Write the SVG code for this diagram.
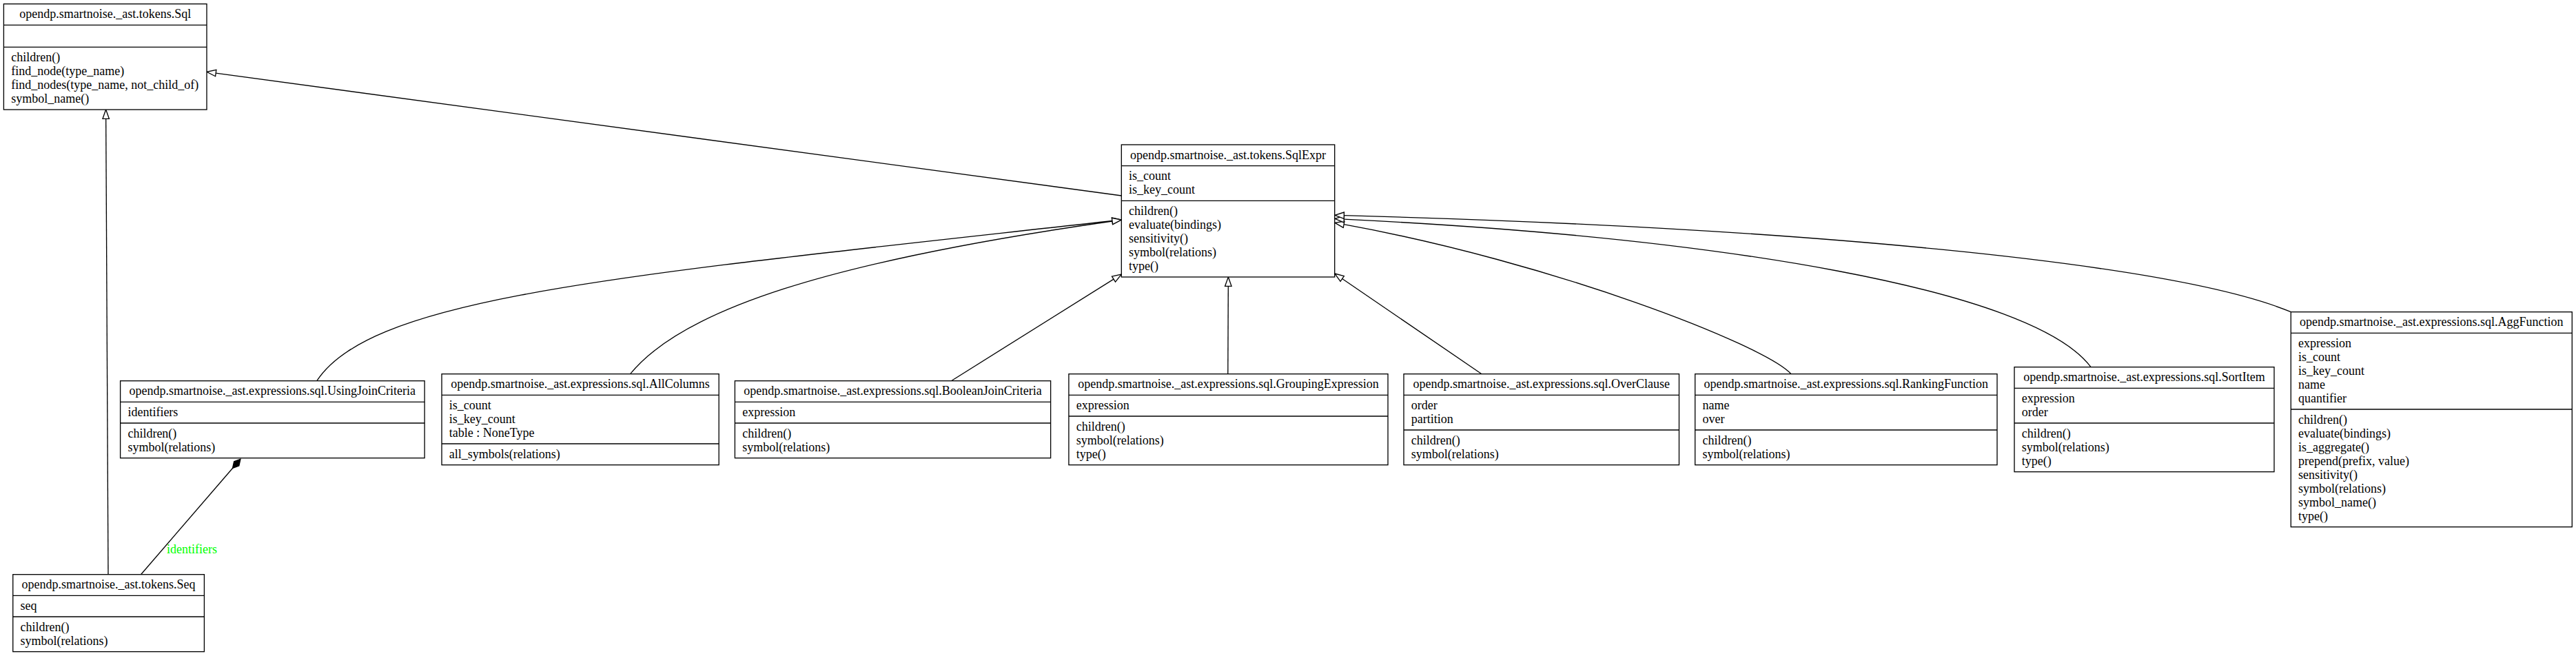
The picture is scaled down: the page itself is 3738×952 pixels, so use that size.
<svg xmlns="http://www.w3.org/2000/svg" width="3738" height="952" viewBox="0 0 3738 952">
<style>
.box{fill:#fff;stroke:#000;stroke-width:1.33}
.sep{stroke:#000;stroke-width:1.33}
text{font-family:"Liberation Serif","Times New Roman",Times,serif;font-size:18px;fill:#000}
.t{text-anchor:middle}
.edge{fill:none;stroke:#000;stroke-width:1.33}
.inh{marker-end:url(#inh)}
.comp{marker-end:url(#comp)}
text.lbl{fill:#00ff00}
</style>
<defs>
<marker id="inh" viewBox="-1 -6 16 12" markerWidth="16" markerHeight="12" refX="0" refY="0" orient="auto" markerUnits="userSpaceOnUse" style="overflow:visible">
<path d="M0,-4.7 L13.3,0 L0,4.7 Z" fill="#fff" stroke="#000" stroke-width="1.33"/>
</marker>
<marker id="comp" viewBox="-1 -6 20 12" markerWidth="20" markerHeight="12" refX="0" refY="0" orient="auto" markerUnits="userSpaceOnUse" style="overflow:visible">
<path d="M0,0 L8.75,-4.7 L17.5,0 L8.75,4.7 Z" fill="#000" stroke="#000" stroke-width="1.33"/>
</marker>
</defs>
<rect x="0" y="0" width="3738" height="952" fill="#fff"/>

<g id="connectors">
<path id="e-sqlexpr-sql" class="edge inh" d="M1627.3,284 L313.2,106.1"/>
<path id="e-seq-sql" class="edge inh" d="M157,833.7 L153.7,172.3"/>
<path id="e-seq-usingjoin" class="edge comp" d="M204.5,833.7 L337.5,679.5"/>
<text class="lbl" x="242" y="803.3">identifiers</text>
<path id="e-usingjoin-sqlexpr" class="edge inh" d="M459.8,552.7 C540,430 900,400 1614,320.5"/>
<path id="e-allcolumns-sqlexpr" class="edge inh" d="M914.6,542.7 C990,450 1200,380 1614,321"/>
<path id="e-boolean-sqlexpr" class="edge inh" d="M1380.4,552.7 L1616,405.1"/>
<path id="e-grouping-sqlexpr" class="edge inh" d="M1781.8,542.7 L1782.3,415.3"/>
<path id="e-over-sqlexpr" class="edge inh" d="M2150,542.7 L1947.7,404.5"/>
<path id="e-ranking-sqlexpr" class="edge inh" d="M2599,542.7 C2560,500 2250,380 1950.1,325.7"/>
<path id="e-sortitem-sqlexpr" class="edge inh" d="M3034,532.7 C2950,420 2500,345 1950.3,318.1"/>
<path id="e-agg-sqlexpr" class="edge inh" d="M3324.3,452.7 C3150,380 2600,330 1950.3,312.7"/>
</g>

<g id="node-sql">
<rect class="box" x="5.4" y="5.7" width="294.6" height="153.4"/>
<line class="sep" x1="5.4" y1="36.4" x2="300" y2="36.4"/>
<line class="sep" x1="5.4" y1="68.4" x2="300" y2="68.4"/>
<text class="t" x="152.7" y="26.4">opendp.smartnoise._ast.tokens.Sql</text>
<text x="16.2" y="89.1">children()</text>
<text x="16.2" y="109.1">find_node(type_name)</text>
<text x="16.2" y="129.1">find_nodes(type_name, not_child_of)</text>
<text x="16.2" y="149.1">symbol_name()</text>
</g>

<g id="node-sqlexpr">
<rect class="box" x="1627.3" y="210" width="309.4" height="192"/>
<line class="sep" x1="1627.3" y1="240.7" x2="1936.7" y2="240.7"/>
<line class="sep" x1="1627.3" y1="291.3" x2="1936.7" y2="291.3"/>
<text class="t" x="1782" y="230.7">opendp.smartnoise._ast.tokens.SqlExpr</text>
<text x="1638.1" y="261.4">is_count</text>
<text x="1638.1" y="281.4">is_key_count</text>
<text x="1638.1" y="312">children()</text>
<text x="1638.1" y="332">evaluate(bindings)</text>
<text x="1638.1" y="352">sensitivity()</text>
<text x="1638.1" y="372">symbol(relations)</text>
<text x="1638.1" y="392">type()</text>
</g>

<g id="node-usingjoincriteria">
<rect class="box" x="174.6" y="552.7" width="441.5" height="112"/>
<line class="sep" x1="174.6" y1="583.3" x2="616.1" y2="583.3"/>
<line class="sep" x1="174.6" y1="614" x2="616.1" y2="614"/>
<text class="t" x="395.35" y="573.4">opendp.smartnoise._ast.expressions.sql.UsingJoinCriteria</text>
<text x="185.4" y="604">identifiers</text>
<text x="185.4" y="634.7">children()</text>
<text x="185.4" y="654.7">symbol(relations)</text>
</g>

<g id="node-seq">
<rect class="box" x="18.75" y="833.7" width="277.65" height="112"/>
<line class="sep" x1="18.75" y1="864.3" x2="296.4" y2="864.3"/>
<line class="sep" x1="18.75" y1="895" x2="296.4" y2="895"/>
<text class="t" x="157.6" y="854.4">opendp.smartnoise._ast.tokens.Seq</text>
<text x="29.5" y="885">seq</text>
<text x="29.5" y="915.7">children()</text>
<text x="29.5" y="935.7">symbol(relations)</text>
</g>

<g id="node-allcolumns">
<rect class="box" x="641" y="542.7" width="402.2" height="132"/>
<line class="sep" x1="641" y1="573.3" x2="1043.2" y2="573.3"/>
<line class="sep" x1="641" y1="644" x2="1043.2" y2="644"/>
<text class="t" x="842.1" y="563.4">opendp.smartnoise._ast.expressions.sql.AllColumns</text>
<text x="651.8" y="594">is_count</text>
<text x="651.8" y="614">is_key_count</text>
<text x="651.8" y="634">table : NoneType</text>
<text x="651.8" y="664.7">all_symbols(relations)</text>
</g>

<g id="node-booleanjoincriteria">
<rect class="box" x="1066.4" y="552.7" width="458.2" height="112"/>
<line class="sep" x1="1066.4" y1="583.3" x2="1524.6" y2="583.3"/>
<line class="sep" x1="1066.4" y1="614" x2="1524.6" y2="614"/>
<text class="t" x="1295.5" y="573.4">opendp.smartnoise._ast.expressions.sql.BooleanJoinCriteria</text>
<text x="1077.2" y="604">expression</text>
<text x="1077.2" y="634.7">children()</text>
<text x="1077.2" y="654.7">symbol(relations)</text>
</g>

<g id="node-groupingexpression">
<rect class="box" x="1550.9" y="542.7" width="463.1" height="132"/>
<line class="sep" x1="1550.9" y1="573.3" x2="2014" y2="573.3"/>
<line class="sep" x1="1550.9" y1="604" x2="2014" y2="604"/>
<text class="t" x="1782.45" y="563.4">opendp.smartnoise._ast.expressions.sql.GroupingExpression</text>
<text x="1561.7" y="594">expression</text>
<text x="1561.7" y="624.7">children()</text>
<text x="1561.7" y="644.7">symbol(relations)</text>
<text x="1561.7" y="664.7">type()</text>
</g>

<g id="node-overclause">
<rect class="box" x="2037" y="542.7" width="399.5" height="132"/>
<line class="sep" x1="2037" y1="573.3" x2="2436.5" y2="573.3"/>
<line class="sep" x1="2037" y1="624" x2="2436.5" y2="624"/>
<text class="t" x="2236.75" y="563.4">opendp.smartnoise._ast.expressions.sql.OverClause</text>
<text x="2047.8" y="594">order</text>
<text x="2047.8" y="614">partition</text>
<text x="2047.8" y="644.7">children()</text>
<text x="2047.8" y="664.7">symbol(relations)</text>
</g>

<g id="node-rankingfunction">
<rect class="box" x="2459.7" y="542.7" width="438.3" height="132"/>
<line class="sep" x1="2459.7" y1="573.3" x2="2898" y2="573.3"/>
<line class="sep" x1="2459.7" y1="624" x2="2898" y2="624"/>
<text class="t" x="2678.85" y="563.4">opendp.smartnoise._ast.expressions.sql.RankingFunction</text>
<text x="2470.5" y="594">name</text>
<text x="2470.5" y="614">over</text>
<text x="2470.5" y="644.7">children()</text>
<text x="2470.5" y="664.7">symbol(relations)</text>
</g>

<g id="node-sortitem">
<rect class="box" x="2923" y="532.7" width="377" height="152"/>
<line class="sep" x1="2923" y1="563.3" x2="3300" y2="563.3"/>
<line class="sep" x1="2923" y1="614" x2="3300" y2="614"/>
<text class="t" x="3111.5" y="553.4">opendp.smartnoise._ast.expressions.sql.SortItem</text>
<text x="2933.8" y="584">expression</text>
<text x="2933.8" y="604">order</text>
<text x="2933.8" y="634.7">children()</text>
<text x="2933.8" y="654.7">symbol(relations)</text>
<text x="2933.8" y="674.7">type()</text>
</g>

<g id="node-aggfunction">
<rect class="box" x="3324.3" y="452.7" width="408" height="312"/>
<line class="sep" x1="3324.3" y1="483.3" x2="3732.3" y2="483.3"/>
<line class="sep" x1="3324.3" y1="594" x2="3732.3" y2="594"/>
<text class="t" x="3528.3" y="473.4">opendp.smartnoise._ast.expressions.sql.AggFunction</text>
<text x="3335.1" y="504">expression</text>
<text x="3335.1" y="524">is_count</text>
<text x="3335.1" y="544">is_key_count</text>
<text x="3335.1" y="564">name</text>
<text x="3335.1" y="584">quantifier</text>
<text x="3335.1" y="614.7">children()</text>
<text x="3335.1" y="634.7">evaluate(bindings)</text>
<text x="3335.1" y="654.7">is_aggregate()</text>
<text x="3335.1" y="674.7">prepend(prefix, value)</text>
<text x="3335.1" y="694.7">sensitivity()</text>
<text x="3335.1" y="714.7">symbol(relations)</text>
<text x="3335.1" y="734.7">symbol_name()</text>
<text x="3335.1" y="754.7">type()</text>
</g>
</svg>
